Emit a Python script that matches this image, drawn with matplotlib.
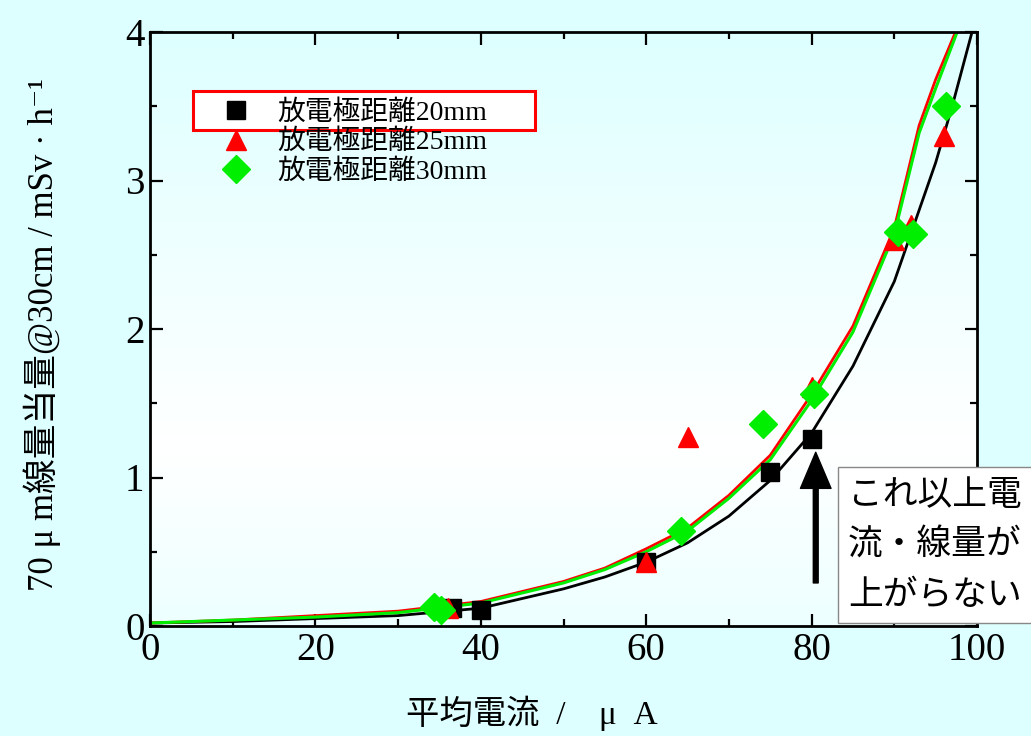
import numpy as np
import matplotlib
matplotlib.use("Agg")
import matplotlib.pyplot as plt
from matplotlib.patches import Rectangle
from matplotlib.ticker import MultipleLocator

plt.rcParams['font.family'] = ['Liberation Serif', 'Noto Sans CJK JP', 'DejaVu Serif']

# ── data ──────────────────────────────────────────────────────────────────────
labels = ["放電極距離20mm", "放電極距離25mm", "放電極距離30mm"]

x20 = [36.5, 40, 60, 75, 80]
y20 = [0.12, 0.11, 0.43, 1.04, 1.26]
x25 = [36, 60, 65, 80, 90, 92, 96]
y25 = [0.12, 0.43, 1.27, 1.61, 2.6, 2.7, 3.3]
x30 = [34.3, 35.2, 64.2, 74.1, 80.3, 90.4, 92.3, 96.2]
y30 = [0.13, 0.11, 0.64, 1.36, 1.56, 2.65, 2.64, 3.5]

# fitted curves
fit20_x = [0, 10, 20, 30, 40, 50, 55, 60, 65, 70, 75, 80, 85, 90, 95, 97, 99.4]
fit20_y = [0.02, 0.03, 0.05, 0.07, 0.12, 0.25, 0.33, 0.43, 0.56, 0.74, 0.98, 1.30, 1.75, 2.32, 3.12, 3.5, 4.0]
fit25_x = [0, 10, 20, 30, 40, 50, 55, 60, 65, 70, 75, 80, 85, 90, 93, 95, 97.4]
fit25_y = [0.02, 0.04, 0.07, 0.10, 0.165, 0.30, 0.39, 0.52, 0.66, 0.88, 1.15, 1.56, 2.02, 2.68, 3.37, 3.68, 4.0]
fit30_x = [0, 10, 20, 30, 40, 50, 55, 60, 65, 70, 75, 80, 85, 90, 93, 95, 97.6]
fit30_y = [0.02, 0.04, 0.06, 0.09, 0.155, 0.29, 0.38, 0.50, 0.64, 0.86, 1.12, 1.52, 1.98, 2.64, 3.32, 3.62, 4.0]

note = "これ以上電\n流・線量が\n上がらない"

# ── figure ────────────────────────────────────────────────────────────────────
fig = plt.figure(figsize=(10.31, 7.36), dpi=100, facecolor="#DEFFFF")
ax = fig.add_axes([150 / 1031, 1 - 626 / 736, 827 / 1031, 594 / 736])

# plot-area gradient: cyan at top, white lower down, faint cyan at bottom
t = np.linspace(0, 1, 256)[:, None]
top_c, mid_c, bot_c = np.array([0.87, 1, 1]), np.array([1, 1, 1]), np.array([0.93, 1, 1])
grad = np.where(t < 0.3, bot_c + (mid_c - bot_c) * (t / 0.3),
                mid_c + (top_c - mid_c) * ((t - 0.3) / 0.7))
ax.imshow(grad[:, None, :] * np.ones((1, 2, 1)), extent=[0, 100, 0, 4],
          origin="lower", aspect="auto", zorder=0, interpolation="bilinear")

ax.plot(fit20_x, fit20_y, color="black", lw=2, zorder=2)
ax.plot(fit25_x, fit25_y, color="#FF0000", lw=2, zorder=2)
ax.plot(fit30_x, fit30_y, color="#00EE00", lw=2.2, zorder=2)

h20, = ax.plot(x20, y20, ls="none", marker="s", ms=13, color="black", zorder=3, label=labels[0])
h25, = ax.plot(x25, y25, ls="none", marker="^", ms=15, color="#FF0000", zorder=3, label=labels[1])
h30, = ax.plot(x30, y30, ls="none", marker="D", ms=14, color="#00EE00", zorder=3, label=labels[2])

ax.set_xlim(0, 100)
ax.set_ylim(0, 4)
ax.xaxis.set_major_locator(MultipleLocator(20))
ax.xaxis.set_minor_locator(MultipleLocator(10))
ax.yaxis.set_major_locator(MultipleLocator(1))
ax.yaxis.set_minor_locator(MultipleLocator(0.5))
ax.tick_params(which="both", direction="in", top=True, right=True, width=1.6, labelsize=28)
ax.tick_params(which="major", length=9)
ax.tick_params(which="minor", length=5)
ax.tick_params(axis="x", pad=4)
ax.tick_params(axis="y", pad=4)
for s in ax.spines.values():
    s.set_linewidth(2)

ax.set_xlabel("平均電流\u2002/\u2003μ\u2002A", fontsize=24)
ax.xaxis.set_label_coords(0.462, -0.118)
ax.set_ylabel("70 μ m線量当量@30cm / mSv · h⁻¹", fontsize=25)
ax.yaxis.set_label_coords(-0.108, 0.49)

# legend with red box around the first entry
leg = ax.legend(handles=[h20, h25, h30], loc="upper left", bbox_to_anchor=(0.0786, 0.8855),
                frameon=False, fontsize=20, borderpad=0, borderaxespad=0,
                handlelength=1.5, handletextpad=0.75, labelspacing=0.14)
leg.set_zorder(6)
ax.add_patch(Rectangle((0.052, 0.835), 0.4136, 0.0657, transform=ax.transAxes,
                       fill=True, fc="white", ec="#FF0000", lw=2.2, zorder=5))

# arrow + note
ax.annotate("", xy=(80.5, 1.17), xytext=(80.5, 0.29),
            arrowprops=dict(width=3.5, headwidth=22, headlength=26, color="black", shrink=0),
            zorder=4)
ax.text(0.8225, 0.2595, note, transform=fig.transFigure, fontsize=25, family="Noto Sans CJK JP",
        linespacing=1.55, va="center", ha="left", zorder=10,
        bbox=dict(boxstyle="square,pad=0.3", fc="white", ec="#888888", lw=1))

fig.savefig("out.png", dpi=100, facecolor=fig.get_facecolor())
